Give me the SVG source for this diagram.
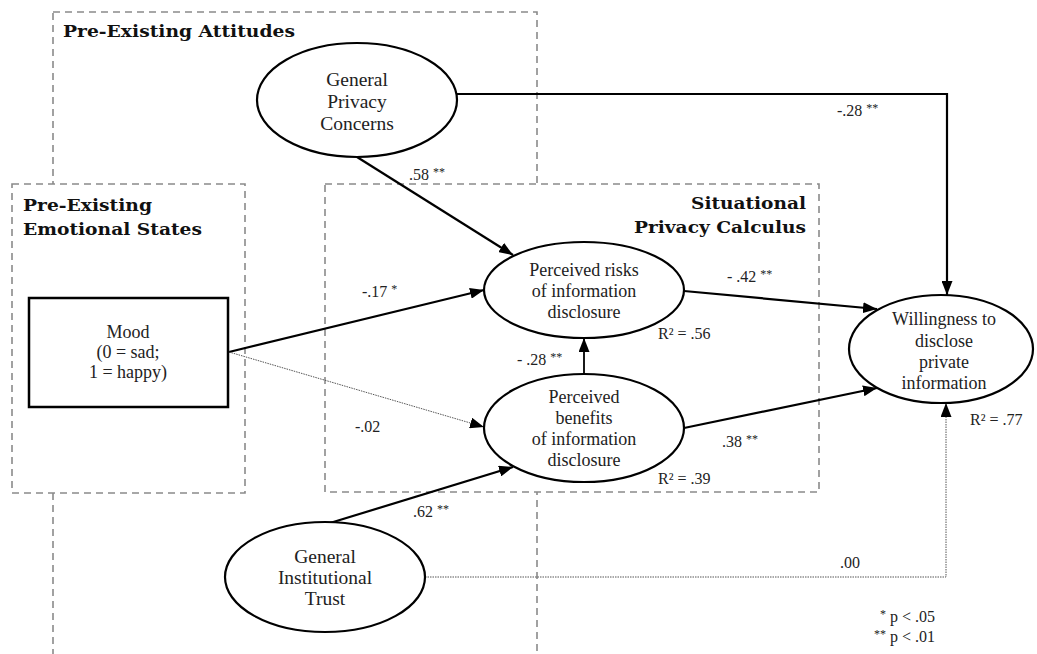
<svg xmlns="http://www.w3.org/2000/svg" width="1037" height="654" viewBox="0 0 1037 654">
<defs>
<marker id="arr" markerUnits="userSpaceOnUse" markerWidth="14" markerHeight="11" viewBox="0 0 14 11" refX="14" refY="5.5" orient="auto">
<path d="M0,0 L14,5.5 L0,11 z" fill="#000"/>
</marker>
<style>
.grp{fill:#fff;stroke:#8a8a8a;stroke-width:1.6;stroke-dasharray:7 5}
.head{font-family:"DejaVu Serif","Liberation Serif",serif;font-weight:bold;font-size:16.5px;fill:#111}
.node{fill:#fff;stroke:#000;stroke-width:2.2}
.t{font-family:"Liberation Serif","Times New Roman",serif;font-size:18px;fill:#222;text-anchor:middle}
.t2{font-family:"Liberation Serif","Times New Roman",serif;font-size:19.5px;fill:#222;text-anchor:middle}
.lab{font-family:"Liberation Serif","Times New Roman",serif;font-size:16px;fill:#222}
.sup{font-size:12px}
.solid{fill:none;stroke:#000;stroke-width:2.2}
.dot{fill:none;stroke:#555;stroke-width:1;stroke-dasharray:1.5 1}
</style>
</defs>
<rect width="1037" height="654" fill="#fff"/>
<g id="group-attitudes">
<rect class="grp" x="53" y="12" width="484" height="720" fill="none" style="fill:none"/>
<text class="head" x="63" y="37" textLength="232" lengthAdjust="spacingAndGlyphs">Pre-Existing Attitudes</text>
</g>
<g id="group-emotional">
<rect class="grp" x="12" y="184" width="233" height="309"/>
<text class="head" x="23" y="211" textLength="129" lengthAdjust="spacingAndGlyphs">Pre-Existing</text>
<text class="head" x="23" y="235" textLength="179" lengthAdjust="spacingAndGlyphs">Emotional States</text>
</g>
<g id="group-situational">
<rect class="grp" x="325" y="184" width="494" height="308"/>
<text class="head" x="806" y="209" text-anchor="end" textLength="115" lengthAdjust="spacingAndGlyphs">Situational</text>
<text class="head" x="806" y="233" text-anchor="end" textLength="172" lengthAdjust="spacingAndGlyphs">Privacy Calculus</text>
</g>
<g id="connectors">
<path class="solid" d="M457,94 H947 V295" marker-end="url(#arr)"/>
<path class="solid" d="M357,157 L513,255" marker-end="url(#arr)"/>
<path class="solid" d="M229,352 L484,290" marker-end="url(#arr)"/>
<path class="dot" d="M229,352 L484,427" marker-end="url(#arr)"/>
<path class="solid" d="M584,375 L584,338" style="stroke-width:1.8" marker-end="url(#arr)"/>
<path class="solid" d="M684,291 L877,309" marker-end="url(#arr)"/>
<path class="solid" d="M684,428 L877,388" marker-end="url(#arr)"/>
<path class="solid" d="M330,523 L513,467" marker-end="url(#arr)"/>
<path class="dot" d="M425,577 H946 V403" marker-end="url(#arr)"/>
<text class="lab" x="409" y="180">.58 <tspan class="sup" dy="-4">**</tspan></text>
<text class="lab" x="362" y="297">-.17 <tspan class="sup" dy="-4">*</tspan></text>
<text class="lab" x="355" y="432">-.02</text>
<text class="lab" x="517" y="365">- .28 <tspan class="sup" dy="-4">**</tspan></text>
<text class="lab" x="727" y="282">- .42 <tspan class="sup" dy="-4">**</tspan></text>
<text class="lab" x="722" y="447">.38 <tspan class="sup" dy="-4">**</tspan></text>
<text class="lab" x="413" y="517">.62 <tspan class="sup" dy="-4">**</tspan></text>
<text class="lab" x="837" y="116">-.28 <tspan class="sup" dy="-4">**</tspan></text>
<text class="lab" x="840" y="568">.00</text>
</g>
<g id="node-gpc">
<ellipse class="node" cx="357" cy="100" rx="100" ry="57"/>
<text class="t2" x="357" y="86">General</text>
<text class="t2" x="357" y="108">Privacy</text>
<text class="t2" x="357" y="130">Concerns</text>
</g>
<g id="node-mood">
<rect class="node" x="29" y="298" width="199" height="109" style="stroke-width:2.5"/>
<text class="t" x="128" y="338">Mood</text>
<text class="t" x="128" y="358">(0 = sad;</text>
<text class="t" x="128" y="378">1 = happy)</text>
</g>
<g id="node-risks">
<ellipse class="node" cx="584" cy="290" rx="100" ry="48"/>
<text class="t" x="584" y="276">Perceived risks</text>
<text class="t" x="584" y="297">of information</text>
<text class="t" x="584" y="318">disclosure</text>
<text class="lab" x="658" y="339">R² = .56</text>
</g>
<g id="node-benefits">
<ellipse class="node" cx="584" cy="428" rx="100" ry="54"/>
<text class="t" x="584" y="403">Perceived</text>
<text class="t" x="584" y="424">benefits</text>
<text class="t" x="584" y="445">of information</text>
<text class="t" x="584" y="466">disclosure</text>
<text class="lab" x="658" y="484">R² = .39</text>
</g>
<g id="node-willingness">
<ellipse class="node" cx="941" cy="349" rx="92" ry="54"/>
<text class="t" x="944" y="325">Willingness to</text>
<text class="t" x="944" y="347">disclose</text>
<text class="t" x="944" y="368">private</text>
<text class="t" x="944" y="389">information</text>
<text class="lab" x="970" y="425">R² = .77</text>
</g>
<g id="node-git">
<ellipse class="node" cx="325" cy="577" rx="100" ry="55"/>
<text class="t2" x="325" y="563">General</text>
<text class="t2" x="325" y="584">Institutional</text>
<text class="t2" x="325" y="605">Trust</text>
</g>
<g id="legend">
<text class="lab" x="935" y="622" text-anchor="end"><tspan class="sup" dy="-4">*</tspan><tspan dy="4"> p &lt; .05</tspan></text>
<text class="lab" x="935" y="642" text-anchor="end"><tspan class="sup" dy="-4">**</tspan><tspan dy="4"> p &lt; .01</tspan></text>
</g>
</svg>
